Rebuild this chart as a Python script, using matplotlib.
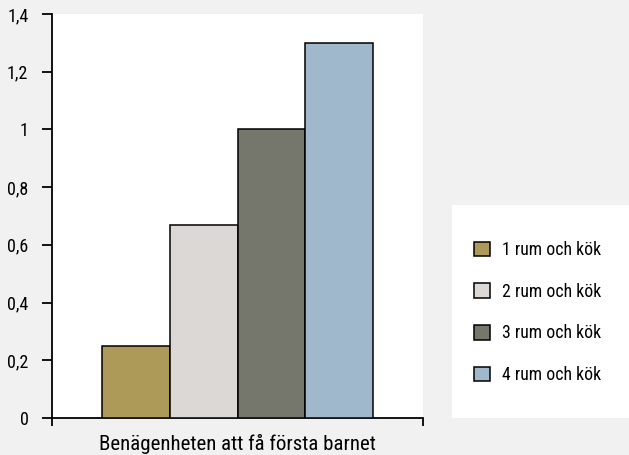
import numpy as np
import matplotlib
matplotlib.use("Agg")
from matplotlib import pyplot as plt
from matplotlib.patches import Rectangle

# data
categories = ["1 rum och kök", "2 rum och kök", "3 rum och kök", "4 rum och kök"]
values = [0.25, 0.67, 1.0, 1.3]
colors = ["#ad9958", "#dcd8d5", "#76776c", "#9fb8cb"]
yticks = [0, 0.2, 0.4, 0.6, 0.8, 1.0, 1.2, 1.4]
ytick_labels = ["0", "0,2", "0,4", "0,6", "0,8", "1", "1,2", "1,4"]
xlabel = "Benägenheten att få första barnet"

plt.rcParams["font.family"] = ["Roboto Condensed", "Liberation Sans Narrow", "Lato", "DejaVu Sans"]

W, H = 629, 455
fig = plt.figure(figsize=(W / 100, H / 100), dpi=100, facecolor="#f1f1f1")
ax = fig.add_axes([52 / W, (H - 418) / H, (423 - 52) / W, (418 - 14) / H])
ax.set_facecolor("white")

# bars, grouped around the single category
w = 0.1825
for i, (lab, v, c) in enumerate(zip(categories, values, colors)):
    ax.bar(0.5 + (i - 1.5) * w, v, width=w, color=c, edgecolor="black",
           linewidth=1.1, label=lab, zorder=3)

ax.set_xlim(0, 1)
ax.set_ylim(0, 1.4)
ax.set_yticks(yticks)
ax.set_yticklabels(ytick_labels, fontsize=13)
ax.set_xticks([0, 1])
ax.set_xticklabels(["", ""])
ax.tick_params(axis="y", direction="out", length=7, width=1.3, pad=10)
ax.tick_params(axis="x", direction="out", length=6, width=1.3)
for s in ["top", "right"]:
    ax.spines[s].set_visible(False)
for s in ["left", "bottom"]:
    ax.spines[s].set_linewidth(1.3)

# x label under the axis, baseline just above the bottom edge
fig.text(237 / W, 5 / H, xlabel, fontsize=15, ha="center", va="baseline")

# legend on its own white box
fig.patches.append(Rectangle((452 / W, (H - 418) / H), (W - 452) / W, (418 - 205) / H,
                             transform=fig.transFigure, facecolor="white",
                             edgecolor="none", zorder=0))
handles, labels = ax.get_legend_handles_labels()
fig.legend(handles, labels, loc="upper left", bbox_to_anchor=(467 / W, 1 - 234 / H),
           frameon=False, fontsize=12.8,
           handlelength=0.9, handleheight=0.9,
           labelspacing=1.33, handletextpad=0.67, borderaxespad=0)

fig.savefig("out.png", dpi=100, facecolor=fig.get_facecolor())
